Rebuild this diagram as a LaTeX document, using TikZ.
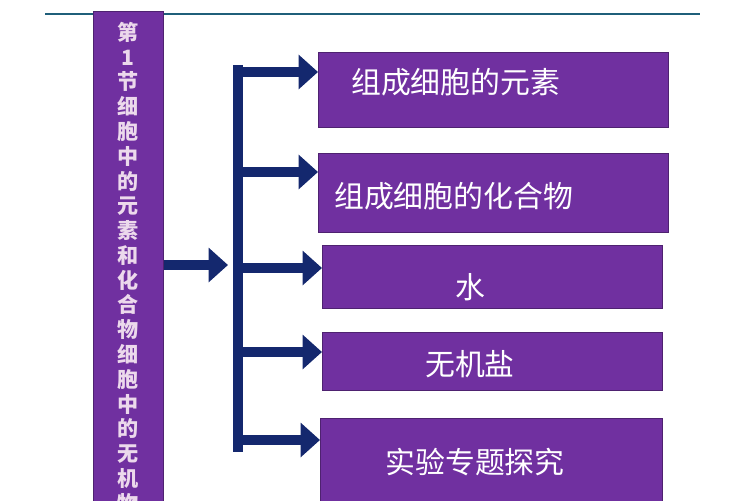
\documentclass[tikz,border=0pt]{standalone}
\usepackage{fontspec}
\newfontfamily\cjk{Noto Sans CJK SC}
\usetikzlibrary{arrows.meta}
\definecolor{boxpurple}{HTML}{7030A0}
\definecolor{arrowblue}{HTML}{14286E}
\definecolor{toplinecol}{HTML}{1F5F7A}
\tikzset{
  topicbox/.style={draw=boxpurple!70!black, fill=boxpurple, anchor=north west, inner sep=0pt},
  topictext/.style={text=white, font=\cjk\fontsize{17}{20}\selectfont},
  fatarrow/.style={draw=arrowblue, line width=5.5pt, -{Triangle[length=11pt, width=19pt]}}
}
\begin{document}
\begin{tikzpicture}[x=0.02cm, y=-0.02cm]
  \useasboundingbox (0,0) rectangle (750,500);
  % top rule
  \coordinate (ruleL) at (45,14);
  \coordinate (ruleR) at (700,14);
  \draw[toplinecol, line width=1.2pt] (ruleL) -- (ruleR);

  % left title bar
  \node[topicbox, minimum width=70*0.02cm, minimum height=490*0.02cm] (bar) at (93,11) {};
  \node[anchor=north, text=violet!15, align=center, font=\cjk\bfseries\fontsize{12}{14.1}\selectfont] (bartext) at (128,16)
    {第\\1\\节\\细\\胞\\中\\的\\元\\素\\和\\化\\合\\物\\细\\胞\\中\\的\\无\\机\\物};

  % topic boxes
  \node[topicbox, minimum width=350*0.02cm, minimum height=75*0.02cm] (elem) at (318,52) {};
  \node[topicbox, minimum width=350*0.02cm, minimum height=79*0.02cm] (comp) at (318,153) {};
  \node[topicbox, minimum width=340*0.02cm, minimum height=63*0.02cm] (water) at (322,245) {};
  \node[topicbox, minimum width=340*0.02cm, minimum height=58*0.02cm] (salt) at (322,332) {};
  \node[topicbox, minimum width=342*0.02cm, minimum height=90*0.02cm] (exp) at (320,418) {};
  \node[topictext, anchor=west] at (345,82) {组成细胞的元素};
  \node[topictext, anchor=west] at (328,196) {组成细胞的化合物};
  \node[topictext] at (470,287) {水};
  \node[topictext] at (470,364) {无机盐};
  \node[topictext] at (475,462) {实验专题探究};

  % bracket
  \coordinate (brT) at (238,65);
  \coordinate (brB) at (238,452);
  \draw[arrowblue, line width=5.5pt] (brT) -- (brB);

  % arrows
  \draw[fatarrow] (bar.east |- 0,265) -- (228,265);
  \draw[fatarrow] (238,72) -- (elem.west |- 0,72);
  \draw[fatarrow] (238,172) -- (comp.west |- 0,172);
  \draw[fatarrow] (238,268) -- (water.west |- 0,268);
  \draw[fatarrow] (238,352) -- (salt.west |- 0,352);
  \draw[fatarrow] (238,440) -- (exp.west |- 0,440);
\end{tikzpicture}
\end{document}
